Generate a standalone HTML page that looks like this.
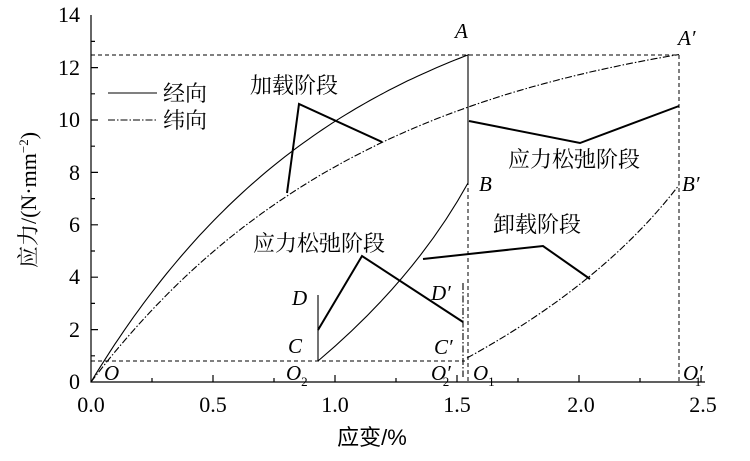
<!DOCTYPE html>
<html><head><meta charset="utf-8"><style>
html,body{margin:0;padding:0;background:#fff}
svg text{font-family:"Liberation Serif","Noto Serif CJK SC","Noto Sans CJK SC",serif;fill:#000}
.cn{font-family:"Liberation Sans","Noto Sans CJK SC",sans-serif}
.it{font-style:italic}
</style></head><body>
<svg id="s" width="750" height="456" viewBox="0 0 750 456" xmlns="http://www.w3.org/2000/svg">
<g stroke="#000" fill="none" stroke-width="1.2">
<path d="M91,15 V382 H705"/>
<g id="ticks"></g>
</g>
<g stroke="#000" fill="none" stroke-width="1" stroke-dasharray="4,3">
<path d="M91,55 H679 M91,361 H465 M468,55 V382 M679,55 V382"/>
</g>
<g fill="none" stroke="#000" stroke-width="1.1">
<path id="warp"/>
<path d="M468,55 V183"/>
<path d="M318,361 Q415,279 468,183"/>
<path d="M318,295 V361"/>
<path id="weft" stroke-dasharray="7,2,1.5,2"/>
<path d="M467,358 Q604,283 679,185" stroke-dasharray="7,2,1.5,2"/>
<path d="M463,283 V377" stroke-dasharray="7,2,1.5,2"/>
<path d="M108,93 H157"/>
<path d="M108,120 H157" stroke-dasharray="7,2,1.5,2"/>
</g>
<g fill="none" stroke="#000" stroke-width="2">
<path d="M287,193 L299,104 L382,142"/>
<path d="M469,121 L580,143 L679,106"/>
<path d="M423,259 L543,246 L590,279"/>
<path d="M318,330 L362,256 L463,322"/>
</g>
<g font-size="22">
<text x="80" y="22" text-anchor="end">14</text>
<text x="80" y="75" text-anchor="end">12</text>
<text x="80" y="127" text-anchor="end">10</text>
<text x="80" y="180" text-anchor="end">8</text>
<text x="80" y="232" text-anchor="end">6</text>
<text x="80" y="284" text-anchor="end">4</text>
<text x="80" y="337" text-anchor="end">2</text>
<text x="80" y="389" text-anchor="end">0</text>
<text x="91" y="412" text-anchor="middle">0.0</text>
<text x="213" y="412" text-anchor="middle">0.5</text>
<text x="335" y="412" text-anchor="middle">1.0</text>
<text x="457" y="412" text-anchor="middle">1.5</text>
<text x="581" y="412" text-anchor="middle">2.0</text>
<text x="703" y="412" text-anchor="middle">2.5</text>
</g>
<text class="cn" x="372" y="445" font-size="22" text-anchor="middle">应变/%</text>
<text x="0" y="0" font-size="22" text-anchor="middle" transform="translate(36,200) rotate(-90)">应力/(N·mm<tspan font-size="13" dy="-8">−2</tspan><tspan dy="8">)</tspan></text>
<g class="cn" font-size="22">
<text x="163" y="101">经向</text>
<text x="163" y="128">纬向</text>
<text x="250" y="93">加载阶段</text>
<text x="508" y="167">应力松弛阶段</text>
<text x="493" y="232">卸载阶段</text>
<text x="253" y="251">应力松弛阶段</text>
</g>
<g class="it" font-size="21">
<text x="104" y="380">O</text>
<text x="286" y="380">O<tspan font-size="13" font-style="normal" dy="6">2</tspan></text>
<text x="431" y="380">O′<tspan font-size="13" font-style="normal" dy="6" dx="-8">2</tspan></text>
<text x="473" y="380">O<tspan font-size="13" font-style="normal" dy="6">1</tspan></text>
<text x="683" y="380">O′<tspan font-size="13" font-style="normal" dy="6" dx="-8">1</tspan></text>
<text x="288" y="353">C</text>
<text x="434" y="354">C′</text>
<text x="292" y="305">D</text>
<text x="431" y="300">D′</text>
<text x="455" y="38">A</text>
<text x="678" y="45">A′</text>
<text x="479" y="191">B</text>
<text x="682" y="191">B′</text>
</g>
</svg>
<script>
function ex(e1,b,n){var a=12.5/(1-Math.exp(-b*e1));var d="";for(var i=0;i<=n;i++){var e=e1*i/n;var s=a*(1-Math.exp(-b*e));d+=(i?"L":"M")+(91+e*244).toFixed(1)+","+(382-s*26.2).toFixed(1);}return d;}
document.getElementById("warp").setAttribute("d",ex(1.55,0.95,80));
document.getElementById("weft").setAttribute("d",ex(2.41,0.85,100));
var t="";
for(var i=1;i<14;i++){var y=382-i*26.2;t+="M91,"+y.toFixed(1)+"h"+(i%2==0?7:4);}
for(var i=1;i<=10;i++){var x=91+i*0.25*244;t+="M"+x.toFixed(1)+",382v"+(i%2==0?-7:-4);}
document.getElementById("ticks").innerHTML='<path d="'+t+'"/>';
</script>
</body></html>
